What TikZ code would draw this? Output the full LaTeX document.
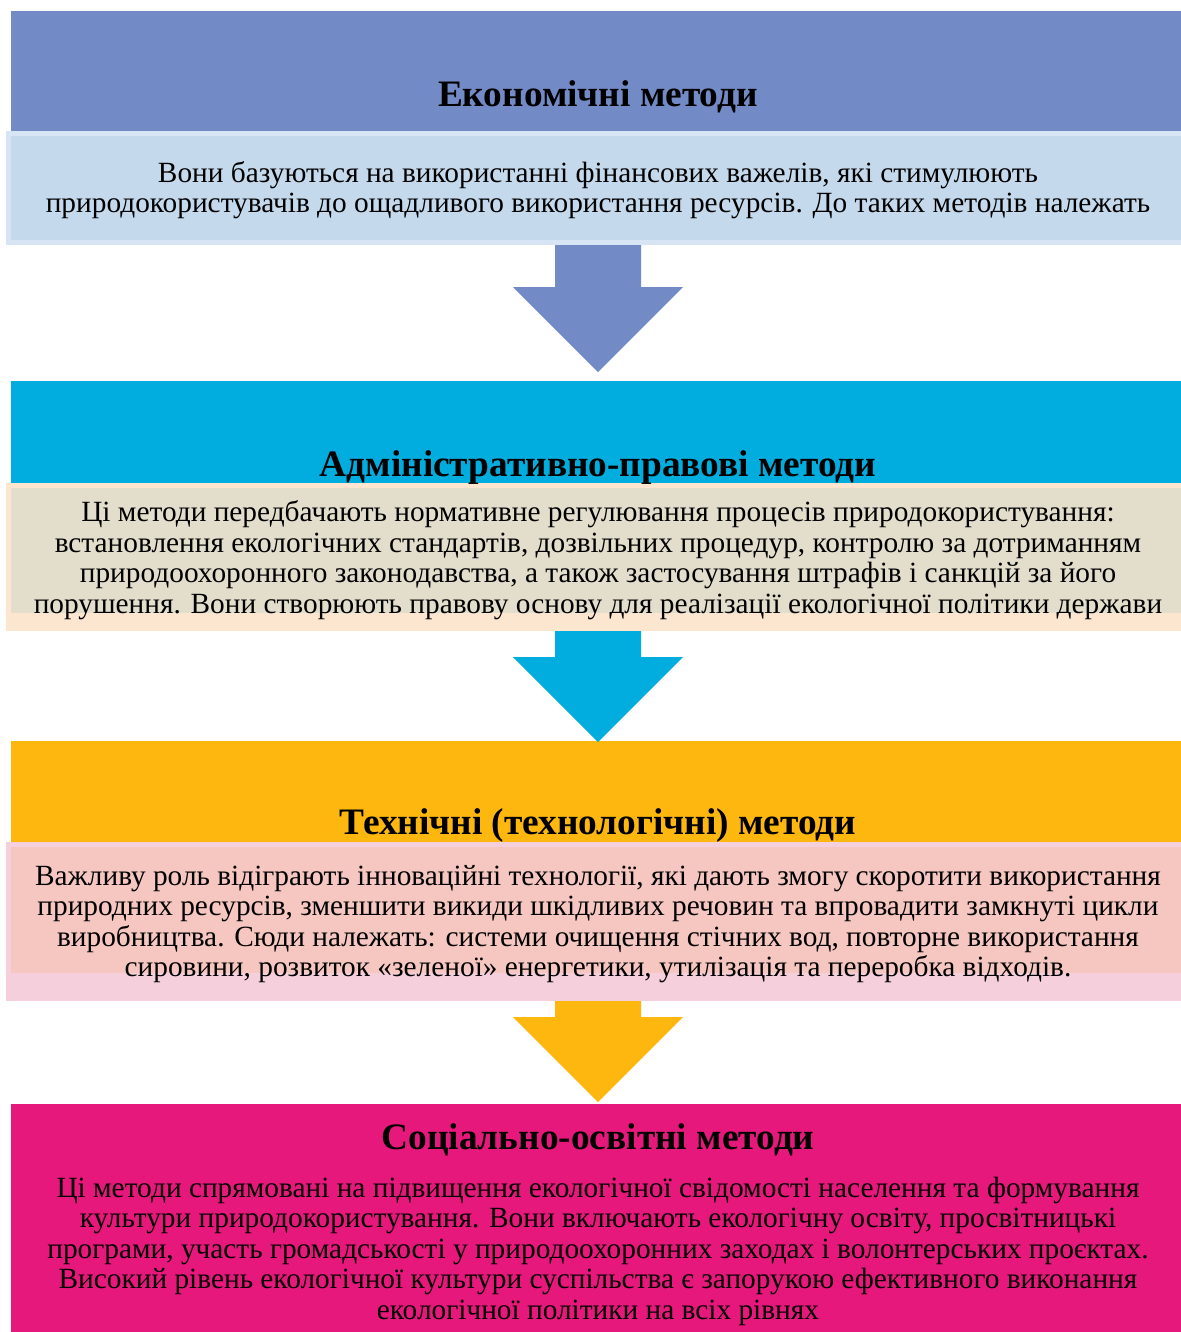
\documentclass[tikz,border=0pt]{standalone}
\usepackage{fontspec}
\setmainfont{Liberation Serif}
\usetikzlibrary{calc,positioning}

\definecolor{econhead}{RGB}{114,138,198}
\definecolor{econfill}{RGB}{197,217,237}
\definecolor{econedge}{RGB}{214,228,243}
\definecolor{adminhead}{RGB}{0,173,222}
\definecolor{adminfill}{RGB}{227,222,204}
\definecolor{adminedge}{RGB}{253,230,208}
\definecolor{techhead}{RGB}{254,183,14}
\definecolor{techfill}{RGB}{246,199,193}
\definecolor{techedge}{RGB}{245,208,220}
\definecolor{socialhead}{RGB}{231,24,123}

\tikzset{
    header/.style = {rectangle, inner sep=0pt, outer sep=0pt,
        minimum width=880.5pt},
    descout/.style = {rectangle, inner sep=0pt, outer sep=0pt,
        minimum width=888pt},
    descin/.style = {rectangle, inner sep=0pt, outer sep=0pt,
        minimum width=880.5pt},
    title/.style = {font=\fontsize{28}{30}\selectfont\bfseries,
        anchor=base, inner sep=0pt},
    body/.style = {font=\fontsize{22}{22.8}\selectfont,
        align=center, anchor=base, inner sep=0pt},
}

% block arrow: colour, from node, to node, tip shift
\newcommand{\flowarrow}[4]{%
    \fill[#1] ($(#2.south)+(-43,0)$) -- ($(#3.north)+(-43,#4-85)$)
        -- ($(#3.north)+(-85,#4-85)$) -- ($(#3.north)+(0,#4)$)
        -- ($(#3.north)+(85,#4-85)$) -- ($(#3.north)+(43,#4-85)$)
        -- ($(#2.south)+(43,0)$) -- cycle;
}

\begin{document}
\begin{tikzpicture}[x=0.75pt,y=-0.75pt]
    \useasboundingbox (0,0) rectangle (1181,1332);

    % Economic methods
    \node [header, fill=econhead, minimum height=90pt] (econ) at (598,71) {};
    \node [descout, fill=econedge, minimum height=85.5pt] (econdesc) at (598,188) {};
    \node [descin, fill=econfill, minimum height=78pt] (econin) at (598,188) {};

    % Administrative and legal methods
    \node [header, fill=adminhead, minimum height=76.5pt] (admin) at (598,432) {};
    \node [descout, fill=adminedge, minimum height=111pt] (admindesc) at (598,557) {};
    \node [descin, fill=adminfill, minimum height=93.75pt] (adminin) at (598,550.5) {};

    % Technical methods
    \node [header, fill=techhead, minimum height=75.75pt] (tech) at (598,791.5) {};
    \node [descout, fill=techedge, minimum height=119.25pt] (techdesc) at (598,921.5) {};
    \node [descin, fill=techfill, minimum height=94.5pt] (techin) at (598,910) {};

    % Social and educational methods
    \node [header, fill=socialhead, minimum height=177pt] (social) at (598,1222) {};

    % arrows
    \flowarrow{econhead}{econdesc}{admin}{-9}
    \flowarrow{adminhead}{admindesc}{tech}{1}
    \flowarrow{techhead}{techdesc}{social}{-2}

    % titles
    \node [title] (econtitle) at (598,106.5) {Економічні методи};
    \node [title] (admintitle) at (598,476) {Адміністративно-правові методи};
    \node [title] (techtitle) at (598,834) {Технічні (технологічні) методи};
    \node [title] (socialtitle) at (598,1149) {Соціально-освітні методи};

    % texts (placed at the baseline of the last line)
    \node [body] (econtext) at (598,212.5) {Вони базуються на використанні фінансових важелів, які стимулюють\\
        природокористувачів до ощадливого використання ресурсів. До таких методів належать};
    \node [body] (admintext) at (598,613) {Ці методи передбачають нормативне регулювання процесів природокористування:\\
        встановлення екологічних стандартів, дозвільних процедур, контролю за дотриманням\\
        природоохоронного законодавства, а також застосування штрафів і санкцій за його\\
        порушення. Вони створюють правову основу для реалізації екологічної політики держави};
    \node [body] (techtext) at (598,976.5) {Важливу роль відіграють інноваційні технології, які дають змогу скоротити використання\\
        природних ресурсів, зменшити викиди шкідливих речовин та впровадити замкнуті цикли\\
        виробництва. Сюди належать: системи очищення стічних вод, повторне використання\\
        сировини, розвиток «зеленої» енергетики, утилізація та переробка відходів.};
    \node [body] (socialtext) at (598,1319) {Ці методи спрямовані на підвищення екологічної свідомості населення та формування\\
        культури природокористування. Вони включають екологічну освіту, просвітницькі\\
        програми, участь громадськості у природоохоронних заходах і волонтерських проєктах.\\
        Високий рівень екологічної культури суспільства є запорукою ефективного виконання\\
        екологічної політики на всіх рівнях};
\end{tikzpicture}
\end{document}
